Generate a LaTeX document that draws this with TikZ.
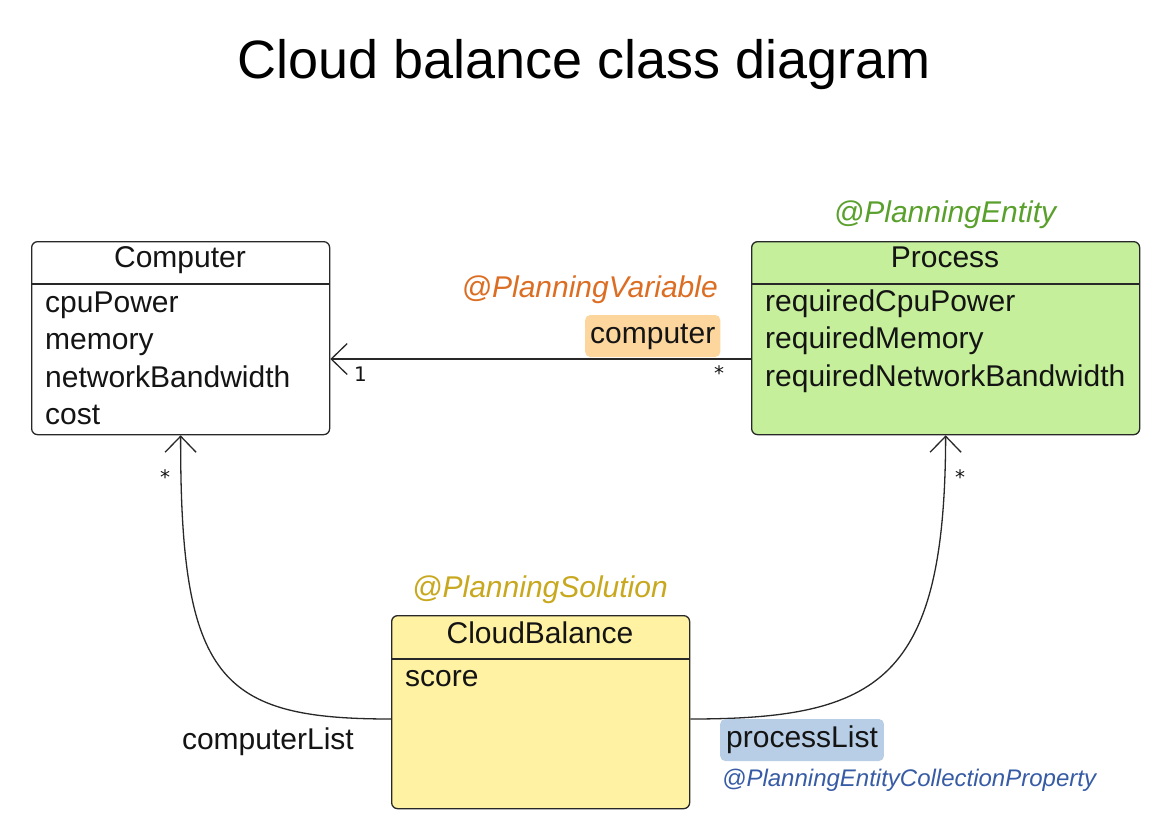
\documentclass[tikz,border=0pt]{standalone}
\usepackage{fontspec}
\setmainfont{Liberation Sans}
\newfontfamily\markfont{DejaVu Sans}
\usetikzlibrary{arrows.meta}

\definecolor{inkline}{RGB}{40,40,40}
\definecolor{inktext}{RGB}{20,20,20}
\definecolor{entityfill}{RGB}{197,239,155}
\definecolor{solutionfill}{RGB}{255,242,163}
\definecolor{entitygreen}{RGB}{90,160,44}
\definecolor{variableorange}{RGB}{220,110,36}
\definecolor{variablefill}{RGB}{253,214,158}
\definecolor{solutiongold}{RGB}{200,168,30}
\definecolor{listfill}{RGB}{184,206,230}
\definecolor{collectionblue}{RGB}{55,92,165}

\newcommand\cdTitleSize{\fontsize{54}{60}\selectfont}
\newcommand\cdBodySize{\fontsize{30}{36}\selectfont}
\newcommand\cdSmallSize{\fontsize{24}{28}\selectfont}
\newcommand\cdMarkSize{\markfont\fontsize{20}{24}\selectfont}

\begin{document}
\begin{tikzpicture}[x=1pt,y=-1pt,
  classbox/.style={draw=inkline, line width=1.3pt, rounded corners=6pt,
    inner sep=0pt, anchor=north west},
  divider/.style={draw=inkline, line width=1.3pt},
  classname/.style={anchor=base, inner sep=0pt, font=\cdBodySize, text=inktext},
  attr/.style={anchor=base west, inner sep=0pt, font=\cdBodySize, text=inktext},
  annot/.style={anchor=base, inner sep=0pt, font=\cdBodySize\itshape},
  role/.style={anchor=base west, inner xsep=5pt, inner ysep=6pt, text height=22pt,
    text depth=8pt, rounded corners=5pt, font=\cdBodySize, text=inktext},
  mult/.style={anchor=base, inner sep=0pt, font=\cdMarkSize, text=inktext},
  assoc/.style={draw=inkline, line width=1.3pt,
    -{Straight Barb[length=16pt,width=31pt,line width=1.3pt]}},
]
\useasboundingbox[fill=white] (0,0) rectangle (1154,830);

% title
\node[anchor=base, inner sep=0pt, font=\cdTitleSize, text=black] (title) at (584,78)
  {Cloud balance class diagram};

% Computer class
\node[classbox, fill=white, minimum width=298pt, minimum height=193pt] (computer) at (31,241) {};
\draw[divider] (computer.west |- 0,284) -- (computer.east |- 0,284);
\node[classname] (computerName) at (180,267) {Computer};
\node[attr] (cpuPower) at (45,312) {cpuPower};
\node[attr] (memory) at (45,349.5) {memory};
\node[attr] (networkBandwidth) at (45,387) {networkBandwidth};
\node[attr] (cost) at (45,424.5) {cost};

% Process class
\node[classbox, fill=entityfill, minimum width=388pt, minimum height=193pt] (process) at (751,241) {};
\draw[divider] (process.west |- 0,284) -- (process.east |- 0,284);
\node[annot, text=entitygreen] (entityTag) at (945,222) {@PlanningEntity};
\node[classname] (processName) at (945,267) {Process};
\node[attr] (reqCpu) at (765,311) {requiredCpuPower};
\node[attr] (reqMem) at (765,348.5) {requiredMemory};
\node[attr] (reqNet) at (765,386) {requiredNetworkBandwidth};

% CloudBalance class
\node[classbox, fill=solutionfill, minimum width=298pt, minimum height=193pt] (cloudBalance) at (391,615) {};
\draw[divider] (cloudBalance.west |- 0,659) -- (cloudBalance.east |- 0,659);
\node[annot, text=solutiongold] (solutionTag) at (540,597) {@PlanningSolution};
\node[classname] (cloudBalanceName) at (540,643) {CloudBalance};
\node[attr] (score) at (405,686) {score};

% Process.computer -> Computer
\draw[assoc] (process.west |- 0,359) -- (computer.east |- 0,359);
\node[annot, anchor=base east, text=variableorange] (variableTag) at (718,297) {@PlanningVariable};
\node[role, fill=variablefill] (computerRole) at (585,343) {computer};
\node[mult, anchor=base west] (oneMark) at (354,381) {1};
\node[mult] (manyMarkA) at (719,380) {*};

% CloudBalance.computerList -> Computer
\draw[assoc] (cloudBalance.west |- 0,719) .. controls (220,719) and (180,680) .. (computer.south);
\node[attr, anchor=base east] (computerListRole) at (354,749) {computerList};
\node[mult] (manyMarkB) at (165,484) {*};

% CloudBalance.processList -> Process
\draw[assoc] (cloudBalance.east |- 0,719) .. controls (880,719) and (945,680) .. (process.south);
\node[role, fill=listfill, inner xsep=6pt] (processListRole) at (720,747) {processList};
\node[anchor=base west, inner sep=0pt, font=\cdSmallSize\itshape, text=collectionblue]
  (collectionTag) at (722,786) {@PlanningEntityCollectionProperty};
\node[mult] (manyMarkC) at (960,484) {*};

\end{tikzpicture}
\end{document}
